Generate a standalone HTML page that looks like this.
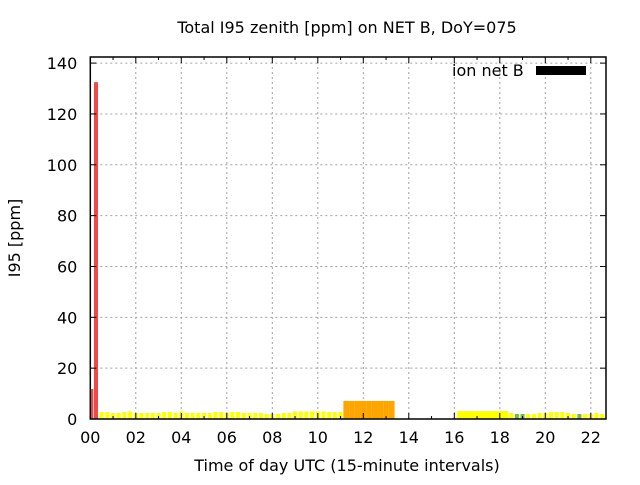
<!DOCTYPE html>
<html><head><meta charset="utf-8"><style>
body{margin:0;background:#fff;}
svg text{font-family:"DejaVu Sans","Liberation Sans",sans-serif;fill:#000;}
</style></head><body>
<svg id="chart" width="640" height="480" viewBox="0 0 640 480">
<rect width="640" height="480" fill="#fff"/>
<text x="347" y="33" font-size="16" text-anchor="middle">Total I95 zenith [ppm] on NET B, DoY=075</text>
<text x="347" y="471" font-size="16" text-anchor="middle">Time of day UTC (15-minute intervals)</text>
<text transform="translate(20,238) rotate(-90)" font-size="16" text-anchor="middle">I95 [ppm]</text>
<g id="grid"></g><g id="bars"></g><g id="axes"></g>
<text x="452" y="76" font-size="16">ion net B</text>
<rect x="536" y="66" width="50" height="9" fill="#000"/>
</svg>
<script>
// bin index (15-min interval), values, colours
const bins = [0,1,2,3,4,5,6,7,8,9,10,11,12,13,14,15,16,17,18,19,20,21,22,23,24,25,26,27,28,29,30,31,32,33,34,35,36,37,38,39,40,41,42,43,44,
45,46,47,48,49,50,51,52,53,
65,66,67,68,69,70,71,72,73,
74,75,76,77,78,79,80,81,82,83,84,85,86,87,88,89,90,91];
const values = [11.8,132.5,2.75,2.75,2.36,2.36,2.75,3.0,2.36,2.36,2.36,2.36,2.36,2.75,2.75,2.36,3.0,2.36,2.36,2.36,2.36,2.36,2.75,2.75,2.36,2.75,2.75,2.36,2.36,2.36,2.36,1.97,1.97,1.97,2.36,2.36,3.0,3.0,3.0,3.0,3.0,3.0,2.75,2.75,2.75,
7.1,7.1,7.1,7.1,7.1,7.1,7.1,7.1,7.1,
3.1,3.1,3.1,3.1,3.1,3.1,3.1,3.1,3.1,
2.36,1.97,1.97,1.97,1.97,2.36,2.36,2.75,2.75,2.75,2.36,1.97,1.97,1.97,1.97,2.36,1.97,1.97];
const colors = ["#f04848","#f04848"].concat(Array(43).fill("#ffff00"),Array(9).fill("#ffa500"),Array(9).fill("#ffff00"),
["#ffff00","#77bb33","#77bb33","#ffff00","#ffff00","#ffff00","#ffff00","#ffff00","#ffff00","#ffff00","#ffff00","#ffff00","#77bb33","#ffff00","#ffff00","#ffff00","#ffff00","#ffff00"]);
const wide = [].concat(Array(45).fill(false),Array(9).fill(true),Array(9).fill(true),Array(18).fill(false));
const yTicks = [0,20,40,60,80,100,120,140];
const xTickLabels = ["00","02","04","06","08","10","12","14","16","18","20","22"];

const X0=90.3,X1=606,Y0=419,Y1=57, BINW=5.6875, YMAX=142.4;
const xs = b => X0 + b*BINW;
const ys = v => Y0 - v/YMAX*(Y0-Y1);
const NS="http://www.w3.org/2000/svg";
function mk(t,a,p){const e=document.createElementNS(NS,t);for(const k in a)e.setAttribute(k,a[k]);p.appendChild(e);return e;}
const grid=document.getElementById('grid'),barsG=document.getElementById('bars'),axes=document.getElementById('axes');
yTicks.forEach((v,i)=>{
  const y=ys(v);
  if(v>0){const g=mk('line',{x1:X0,x2:X1,y1:y,y2:y,stroke:'#a0a0a0','stroke-dasharray':'2,3'},grid);
  
  }
  mk('line',{x1:X0,x2:X0+6,y1:y,y2:y,stroke:'#000'},axes);
  mk('line',{x1:X1,x2:X1-6,y1:y,y2:y,stroke:'#000'},axes);
  const t=mk('text',{x:X0-13,y:y+6,'font-size':16,'text-anchor':'end'},axes);t.textContent=v;
  
  
});
xTickLabels.forEach((l,i)=>{
  const x=xs(i*8);
  if(i>0){const g=mk('line',{x1:x,x2:x,y1:Y0,y2:Y1,stroke:'#a0a0a0','stroke-dasharray':'2,3'},grid);
  
  }
  mk('line',{x1:x,x2:x,y1:Y0,y2:Y0-6,stroke:'#000'},axes);
  mk('line',{x1:x,x2:x,y1:Y1,y2:Y1+6,stroke:'#000'},axes);
  const xm=xs(i*8+4);
  if(xm<X1){mk('line',{x1:xm,x2:xm,y1:Y0,y2:Y0-3,stroke:'#000'},axes);mk('line',{x1:xm,x2:xm,y1:Y1,y2:Y1+3,stroke:'#000'},axes);}
  const t=mk('text',{x:x,y:Y0+24,'font-size':16,'text-anchor':'middle'},axes);t.textContent=l;
  
  
});
bins.forEach((b,i)=>{
  const w=wide[i]?BINW:4;
  let x=xs(b)-w/2, x2=x+w;
  if(b===0)x2+=1;
  x=Math.max(x,X0); x2=Math.min(x2,X1-1);
  if(x2<=x)return;
  const r=mk('rect',{x:x,y:ys(values[i]),width:x2-x,height:Y0-ys(values[i]),fill:colors[i]},barsG);
  
  
});
const fr=mk('rect',{x:X0,y:Y1,width:X1-X0,height:Y0-Y1,fill:'none',stroke:'#000','stroke-width':1.5},axes);


</script>
</body></html>
